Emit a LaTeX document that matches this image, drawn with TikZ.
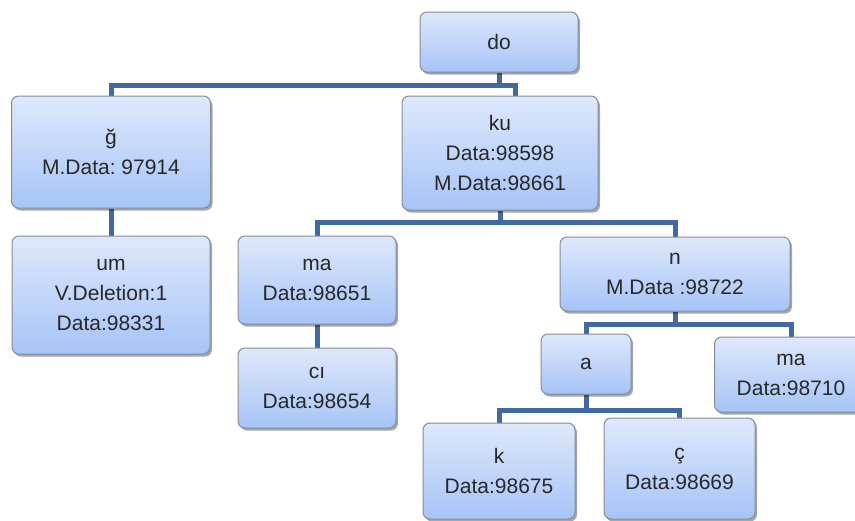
\documentclass[tikz,border=0pt]{standalone}
\usepackage{fontspec}
\setmainfont{Liberation Sans}
\frenchspacing
\usetikzlibrary{shadows,backgrounds,calc}
\definecolor{boxtop}{RGB}{222,232,251}
\definecolor{boxbot}{RGB}{166,196,247}
\definecolor{boxline}{RGB}{135,140,150}
\definecolor{link}{RGB}{66,106,160}
\definecolor{ink}{RGB}{40,40,40}
\tikzset{
  box/.style={draw=boxline, line width=1pt, rounded corners=7pt,
    top color=boxtop, bottom color=boxbot, align=center,
    text=ink, font=\fontsize{21}{30}\selectfont, inner sep=0pt,
    drop shadow={shadow xshift=2pt, shadow yshift=-2.5pt, opacity=0.35, fill=black}},
  conn/.style={draw=link, line width=5pt},
}
\newcommand{\bx}[6]{\node[box, minimum width=#4pt, minimum height=#5pt] (#1) at (#2,#3) {#6};}
\begin{document}
\begin{tikzpicture}[x=1pt,y=-1pt]
\useasboundingbox (0,0) rectangle (855,520);
\clip (0,0) rectangle (855,520);
% tree boxes
\bx{do}{499}{42}{158}{60}{do}
\bx{g}{111}{152}{199}{112}{ğ\\M.Data: 97914}
\bx{ku}{500}{153}{196}{114}{ku\\Data:98598\\M.Data:98661}
\bx{um}{111}{295}{198}{118}{um\\V.Deletion:1\\Data:98331}
\bx{maL}{317}{280}{158}{88}{ma\\Data:98651}
\bx{ci}{317}{388}{158}{80}{cı\\Data:98654}
\bx{n}{675}{274}{230}{74}{n\\M.Data :98722}
\bx{a}{586}{364}{90}{60}{a}
\bx{maR}{791}{374.5}{153}{75}{ma\\Data:98710}
\bx{k}{499}{471}{152}{96}{k\\Data:98675}
\bx{c}{679.5}{468.5}{151}{101}{ç\\Data:98669}
% junction levels
\coordinate (j1) at (0,85);
\coordinate (j2) at (0,222);
\coordinate (j3) at (0,324);
\coordinate (j4) at (0,410);
\begin{pgfonlayer}{background}
  \draw[conn] (do.south) -- (do.south |- j1) -| (g.north);
  \draw[conn] (do.south |- j1) -| ([xshift=15pt]ku.north);
  \draw[conn] (g.south) -- (um.north);
  \draw[conn] (ku.south) -- (ku.south |- j2) -| (maL.north);
  \draw[conn] (ku.south |- j2) -| (n.north);
  \draw[conn] (maL.south) -- (ci.north);
  \draw[conn] (n.south) -- (n.south |- j3) -| (a.north);
  \draw[conn] (n.south |- j3) -| (maR.north);
  \draw[conn] (a.south) -- (a.south |- j4) -| (k.north);
  \draw[conn] (a.south |- j4) -| (c.north);
\end{pgfonlayer}
\end{tikzpicture}
\end{document}
